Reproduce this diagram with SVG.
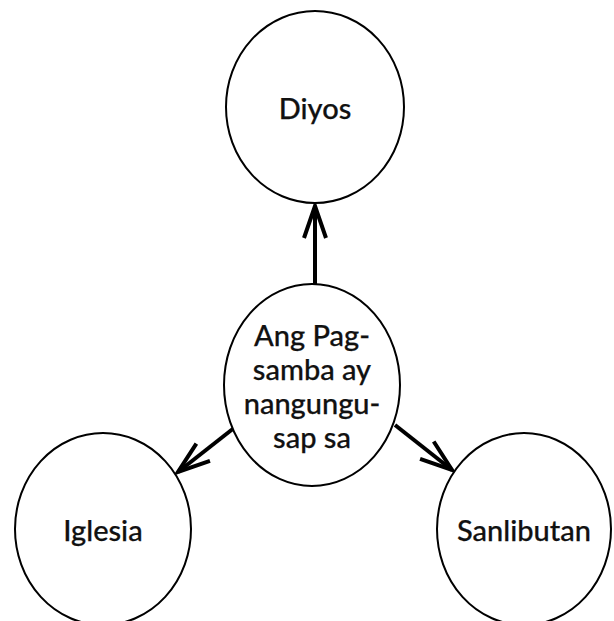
<svg xmlns="http://www.w3.org/2000/svg" width="614" height="621" viewBox="0 0 614 621">
<style>
.node{fill:#fff;stroke:#000;stroke-width:2}
.lbl{font-family:Lato,"Liberation Sans",sans-serif;font-size:29px;font-weight:500;fill:#111;stroke:#111;stroke-width:0.25;text-anchor:middle}
.edge{stroke:#000;stroke-width:4;fill:none}
</style>
<defs>
<marker id="arr" markerUnits="userSpaceOnUse" markerWidth="40" markerHeight="30" viewBox="-34 -15 40 30" refX="0" refY="0" orient="auto">
<path d="M-32,-11 L0,0 L-32,11" fill="none" stroke="#000" stroke-width="4" stroke-linejoin="miter"/>
</marker>
</defs>
<rect width="614" height="621" fill="#fff"/>
<g id="edges">
<line class="edge" x1="315" y1="284" x2="315" y2="206" marker-end="url(#arr)"/>
<line class="edge" x1="234" y1="428" x2="178" y2="472" marker-end="url(#arr)"/>
<line class="edge" x1="395" y1="425" x2="452" y2="470" marker-end="url(#arr)"/>
</g>
<g id="diyos">
<ellipse class="node" cx="315" cy="107" rx="89" ry="96"/>
<text class="lbl" x="315" y="119">Diyos</text>
</g>
<g id="center">
<ellipse class="node" cx="312" cy="385" rx="88" ry="101"/>
<text class="lbl" x="312" y="346">Ang Pag-</text>
<text class="lbl" x="312" y="380">samba ay</text>
<text class="lbl" x="312" y="414">nangungu-</text>
<text class="lbl" x="312" y="448">sap sa</text>
</g>
<g id="iglesia">
<ellipse class="node" cx="103" cy="529" rx="88" ry="96"/>
<text class="lbl" x="103" y="541">Iglesia</text>
</g>
<g id="sanlibutan">
<ellipse class="node" cx="524" cy="529" rx="87" ry="96"/>
<text class="lbl" x="524" y="541">Sanlibutan</text>
</g>
</svg>
